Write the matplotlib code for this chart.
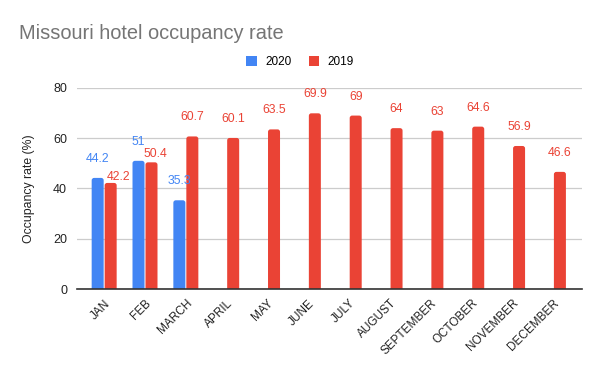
import matplotlib.pyplot as plt
import matplotlib.transforms as mtransforms
from matplotlib.patches import FancyBboxPatch, Patch
import numpy as np

months = ["JAN", "FEB", "MARCH", "APRIL", "MAY", "JUNE", "JULY", "AUGUST",
          "SEPTEMBER", "OCTOBER", "NOVEMBER", "DECEMBER"]
rate_2020 = [44.2, 51, 35.3]
rate_2019 = [42.2, 50.4, 60.7, 60.1, 63.5, 69.9, 69, 64, 63, 64.6, 56.9, 46.6]
yticks = [0, 20, 40, 60, 80]

BLUE = "#4285F4"
RED = "#EA4335"

plt.rcParams['font.family'] = ['Liberation Sans', 'DejaVu Sans']

fig = plt.figure(figsize=(6, 3.71), dpi=100)
ax = fig.add_axes([0.128, 0.221, 0.842, 0.542])

ax.set_ylim(0, 80)
ax.set_xlim(-0.67, 11.7)

x = np.arange(len(months))
w = 0.294
off = 0.159
x20 = x[:len(rate_2020)] - off
x19 = x + off

# aspect between x and y data units in pixels, for round corners
bbox = ax.get_window_extent()
px_x = bbox.width / (11.7 + 0.67)
px_y = bbox.height / 80.0
aspect = px_x / px_y


def draw_bar(xc, v, color):
    p = FancyBboxPatch((xc - w / 2, -5), w, v + 5,
                       boxstyle="round,pad=0,rounding_size=0.06",
                       mutation_aspect=aspect, facecolor=color,
                       edgecolor="none", zorder=3)
    ax.add_patch(p)


for xi, v in zip(x20, rate_2020):
    draw_bar(xi, v, BLUE)
for xi, v in zip(x19, rate_2019):
    draw_bar(xi, v, RED)

# label nudges (points) for labels moved to avoid collisions
nudges_2019 = {0: (5.5, 4.3), 1: (2.9, 5.8)}

for xi, v in zip(x20, rate_2020):
    ax.annotate(f"{v:g}", (xi, v), xytext=(0, 13.7), textcoords="offset points",
                ha="center", va="center", color=BLUE, fontsize=8.8)
for i, (xi, v) in enumerate(zip(x19, rate_2019)):
    dx, dy = nudges_2019.get(i, (0, 13.7))
    ax.annotate(f"{v:g}", (xi, v), xytext=(dx, dy), textcoords="offset points",
                ha="center", va="center", color=RED, fontsize=8.8)

ax.set_yticks(yticks)
ax.set_xticks(x)
ax.set_xticklabels(months, rotation=45, ha="right", rotation_mode="anchor",
                   fontsize=8.5, color="#222222")
shift = mtransforms.ScaledTranslation(0.08, 0, fig.dpi_scale_trans)
for lab in ax.get_xticklabels():
    lab.set_transform(lab.get_transform() + shift)
ax.tick_params(axis="x", length=0, pad=6)
ax.tick_params(axis="y", length=0, pad=7, labelsize=9, labelcolor="#222222")
ax.grid(axis="y", color="#cccccc", linewidth=0.9, zorder=0)
for s in ["top", "right", "left"]:
    ax.spines[s].set_visible(False)
ax.spines["bottom"].set_color("#333333")
ax.spines["bottom"].set_linewidth(1.2)
ax.spines["bottom"].set_zorder(4)
ax.set_ylabel("Occupancy rate (%)", fontsize=8.8, color="#222222", labelpad=13)

fig.text(0.032, 1 - 39 / 371, "Missouri hotel occupancy rate", fontsize=14.4,
         color="#757575", ha="left", va="baseline")

handles = [Patch(facecolor=BLUE, label="2020"), Patch(facecolor=RED, label="2019")]
fig.legend(handles=handles, loc="center", bbox_to_anchor=(0.5, 1 - 62 / 371),
           ncol=2, frameon=False, fontsize=8.5, handlelength=0.93,
           handleheight=0.93, columnspacing=1.44, handletextpad=0.68)

fig.savefig("out.png", dpi=100, facecolor="white")
